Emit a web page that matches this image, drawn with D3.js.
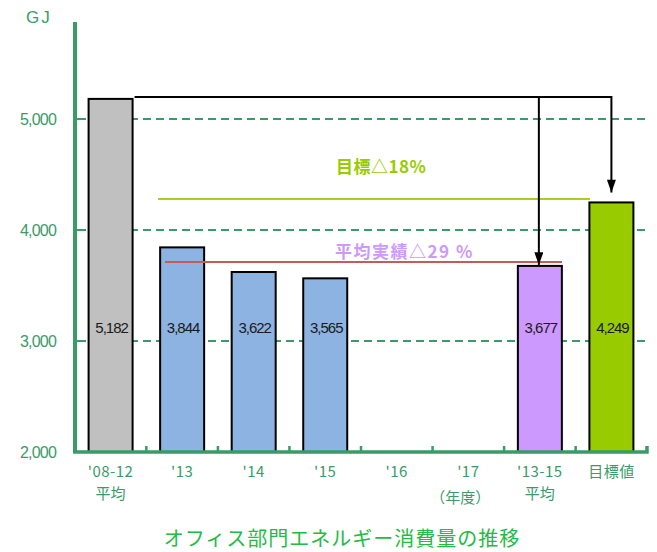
<!DOCTYPE html>
<html><head><meta charset="utf-8">
<script src="https://cdn.jsdelivr.net/npm/d3@7"></script>
<style>
html,body{margin:0;padding:0;background:#fff;}
svg{display:block;font-family:"Liberation Sans",Arial,sans-serif;}
.jp{font-family:"Noto Sans CJK JP","Noto Sans CJK SC",sans-serif;}
</style></head>
<body>
<svg id="chart" width="657" height="552"></svg>
<script>
// Office energy consumption (GJ) by fiscal year
const categories = ["'08-12", "'13", "'14", "'15", "'16", "'17", "'13-15", "目標値"];
const subLabels  = ["平均", "", "", "", "", "", "平均", ""];
const values     = [5182, 3844, 3622, 3565, null, null, 3677, 4249];
const barColors  = ["#c0c0c0", "#8db3e2", "#8db3e2", "#8db3e2", null, null, "#cc99ff", "#99cc00"];
const yTicks     = [2000, 3000, 4000, 5000];
const targetLine = 4280;   // 目標△18%
const actualLine = 3712;   // 平均実績△29%

const svg = d3.select("#chart");
const axisColor = "#3a9b68";

const x = d3.scaleBand().domain(categories).range([75, 647]).paddingInner(0.385).paddingOuter(0.19);
const y = d3.scaleLinear().domain([2000, 5875]).range([452, 22]);

// dashed gridlines
svg.append("g").selectAll("line").data(yTicks.filter(d => d > 2000)).join("line")
  .attr("x1", 78).attr("x2", 647).attr("y1", d => y(d)).attr("y2", d => y(d))
  .attr("stroke", axisColor).attr("stroke-width", 2).attr("stroke-dasharray", "8,5");

// y tick labels
svg.append("g").selectAll("text").data(yTicks).join("text")
  .attr("x", 56).attr("y", d => y(d) + 6).attr("text-anchor", "end")
  .attr("font-size", 16).attr("fill", axisColor).attr("letter-spacing", "-0.8").text(d3.format(","));
// y tick marks
svg.append("g").selectAll("line").data(yTicks.filter(d => d > 2000)).join("line")
  .attr("x1", 75).attr("x2", 80).attr("y1", d => y(d)).attr("y2", d => y(d))
  .attr("stroke", axisColor).attr("stroke-width", 2);

svg.append("text").attr("x", 26).attr("y", 23).attr("font-size", 17)
  .attr("fill", axisColor).attr("letter-spacing", "2").text("GJ");

// bars
const barData = categories.map((c, i) => ({c, v: values[i], col: barColors[i]})).filter(d => d.v != null);
svg.append("g").selectAll("rect").data(barData).join("rect")
  .attr("x", d => x(d.c)).attr("width", x.bandwidth())
  .attr("y", d => y(d.v)).attr("height", d => y(2000) - y(d.v))
  .attr("fill", d => d.col).attr("stroke", "#000").attr("stroke-width", 2);

// value labels
svg.append("g").selectAll("text").data(barData).join("text")
  .attr("x", d => x(d.c) + x.bandwidth() / 2 + 1).attr("y", y(3075))
  .attr("text-anchor", "middle").attr("font-size", 15).attr("fill", "#1a1a1a")
  .attr("letter-spacing", "-1").text(d => d3.format(",")(d.v));

// axes lines
svg.append("line").attr("x1", 75).attr("x2", 75).attr("y1", 22).attr("y2", 452)
  .attr("stroke", axisColor).attr("stroke-width", 4);
svg.append("path").attr("d", `M73,452H647V446`).attr("fill", "none")
  .attr("stroke", axisColor).attr("stroke-width", 3.5);
// x tick marks between categories
svg.append("g").selectAll("line").data(categories.slice(1)).join("line")
  .attr("x1", d => x(d) - x.step() * x.paddingInner() / 2).attr("x2", d => x(d) - x.step() * x.paddingInner() / 2)
  .attr("y1", 446).attr("y2", 452).attr("stroke", axisColor).attr("stroke-width", 2.5);

// x labels
const xl = svg.append("g").attr("class", "jp").attr("fill", axisColor).attr("font-size", 15).attr("text-anchor", "middle");
xl.selectAll("text.c").data(categories).join("text").attr("class", "c")
  .attr("x", d => x(d) + x.bandwidth() / 2).attr("y", 477).attr("letter-spacing", "0.5").text(d => d);
xl.selectAll("text.s").data(categories.map((c, i) => ({c, s: subLabels[i]})).filter(d => d.s)).join("text").attr("class", "s")
  .attr("x", d => x(d.c) + x.bandwidth() / 2).attr("y", 499).text(d => d.s);
xl.append("text").attr("x", x("'17") + x.bandwidth() / 2 - 8).attr("y", 503).text("（年度）");

// reference lines
svg.append("line").attr("x1", 158).attr("x2", 590).attr("y1", y(targetLine)).attr("y2", y(targetLine))
  .attr("stroke", "#a8cf1c").attr("stroke-width", 2);
svg.append("line").attr("x1", 165).attr("x2", 562).attr("y1", y(actualLine)).attr("y2", y(actualLine))
  .attr("stroke", "#c85a5a").attr("stroke-width", 2);
svg.append("text").attr("class", "jp").attr("x", 336).attr("y", 173).attr("font-size", 17).attr("font-weight", "bold")
  .attr("fill", "#99cc00").attr("letter-spacing", "0.5").text("目標△18%");
svg.append("text").attr("class", "jp").attr("x", 335).attr("y", 258).attr("font-size", 17).attr("font-weight", "bold")
  .attr("fill", "#cc99ff").attr("letter-spacing", "1.5").text("平均実績△29 %");

// connector arrows from the 2008-12 average
svg.append("defs").append("marker").attr("id", "arr").attr("viewBox", "0 0 14 10")
  .attr("refX", 14).attr("refY", 5).attr("markerWidth", 14).attr("markerHeight", 9)
  .attr("markerUnits", "userSpaceOnUse").attr("orient", "auto")
  .append("path").attr("d", "M0,0L14,5L0,10Z").attr("fill", "#000");
const yTop = y(values[0]) - 2;
const cx = c => x(c) + x.bandwidth() / 2;
svg.append("path").attr("d", `M${x(categories[0]) + x.bandwidth() + 2},${yTop}H${cx("目標値")}V${y(values[7]) - 10}`)
  .attr("fill", "none").attr("stroke", "#000").attr("stroke-width", 2).attr("marker-end", "url(#arr)");
svg.append("path").attr("d", `M${cx("'13-15") - 1},${yTop}V${y(values[6]) - 1}`)
  .attr("fill", "none").attr("stroke", "#000").attr("stroke-width", 2).attr("marker-end", "url(#arr)");

// title
svg.append("text").attr("class", "jp").attr("x", 342).attr("y", 546).attr("text-anchor", "middle")
  .attr("font-size", 20).attr("letter-spacing", "1").attr("fill", "#22bb44").text("オフィス部門エネルギー消費量の推移");
</script>
</body></html>
